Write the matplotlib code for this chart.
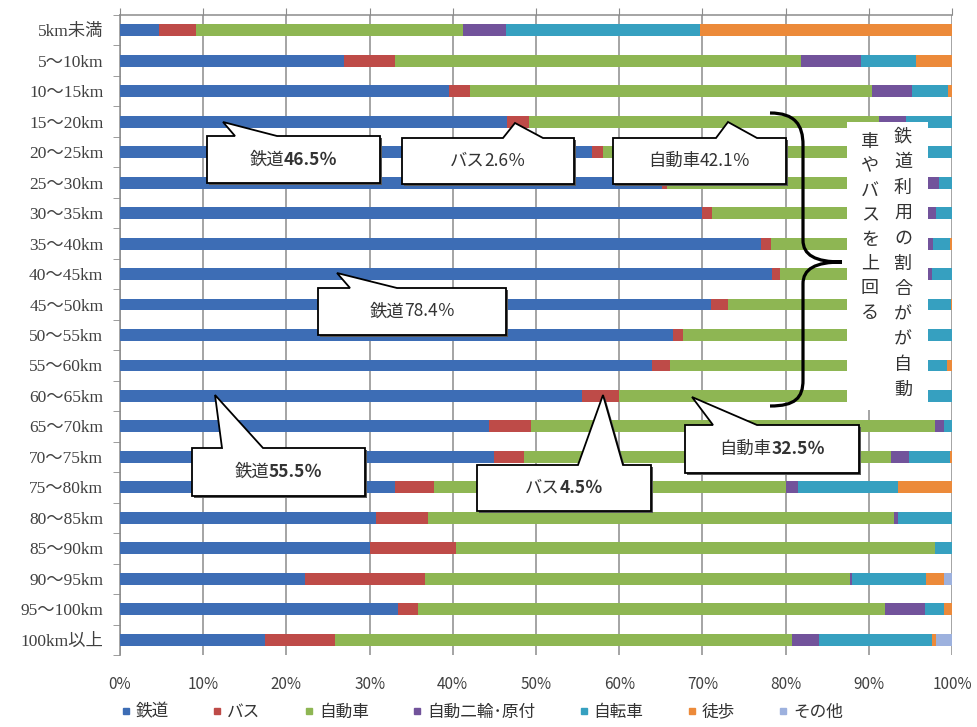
import matplotlib
matplotlib.use("Agg")
import matplotlib.pyplot as plt
import numpy as np
from matplotlib.patches import Polygon, Rectangle, PathPatch
from matplotlib.path import Path
from matplotlib.lines import Line2D

plt.rcParams['font.family'] = ['Noto Sans CJK JP', 'DejaVu Sans']

categories = ["5km未満", "5～10km", "10～15km", "15～20km", "20～25km", "25～30km",
              "30～35km", "35～40km", "40～45km", "45～50km", "50～55km", "55～60km",
              "60～65km", "65～70km", "70～75km", "75～80km", "80～85km", "85～90km",
              "90～95km", "95～100km", "100km以上"]
series_names = ["鉄道", "バス", "自動車", "自動二輪･原付", "自転車", "徒歩", "その他"]

rail = [4.7, 26.9, 39.5, 46.5, 56.7, 65.2, 70.0, 77.0, 78.4, 71.0, 66.5, 64.0, 55.5,
        44.4, 44.9, 33.0, 30.8, 30.0, 22.2, 33.4, 17.4]
bus = [4.4, 6.1, 2.6, 2.6, 1.3, 0.5, 1.2, 1.2, 0.9, 2.1, 1.2, 2.1, 4.5,
       5.0, 3.6, 4.7, 6.2, 10.4, 14.4, 2.4, 8.5]
car = [32.1, 48.8, 48.3, 42.1, 36.4, 31.2, 25.8, 18.9, 17.8, 23.6, 29.1, 30.8, 32.5,
       48.6, 44.2, 42.3, 56.0, 57.6, 51.1, 56.2, 54.9]
moto = [5.2, 7.3, 4.8, 3.3, 2.3, 1.5, 1.1, 0.6, 0.5, 0.4, 0.3, 0.2, 2.5,
        1.0, 2.1, 1.5, 0.5, 0.0, 0.3, 4.7, 3.2]
bike = [23.3, 6.6, 4.3, 5.5, 3.3, 1.6, 1.9, 2.0, 2.4, 2.8, 2.9, 2.3, 5.0,
        1.0, 5.0, 12.0, 6.5, 2.0, 8.9, 2.3, 13.6]
walk = [30.3, 4.3, 0.5, 0.0, 0.0, 0.0, 0.0, 0.3, 0.0, 0.5, 0.0, 0.6, 0.0,
        0.0, 0.2, 6.5, 0.0, 0.0, 2.1, 1.0, 0.5]
other = [0.0, 0.0, 0.0, 0.0, 0.0, 0.0, 0.0, 0.0, 0.0, 0.0, 0.0, 0.0, 0.0,
         0.0, 0.0, 0.0, 0.0, 0.0, 1.0, 0.0, 1.9]
xtick_labels = ["0%", "10%", "20%", "30%", "40%", "50%", "60%", "70%", "80%", "90%", "100%"]

colors = ["#3D6DB5", "#BE4B48", "#8EB653", "#72539B", "#36A0C0", "#EC8A3A", "#9DB1DE"]

W, H = 978, 727
fig = plt.figure(figsize=(W / 100, H / 100), dpi=100)
ax = fig.add_axes([120 / W, 1 - 655 / H, 832 / W, 640 / H])

y = np.arange(len(categories))
left = np.zeros(len(categories))
for name, vals, c in zip(series_names, [rail, bus, car, moto, bike, walk, other], colors):
    vals = np.array(vals)
    ax.barh(y, vals, left=left, height=0.39, color=c, label=name, zorder=3)
    left += vals

ax.set_xlim(0, 100)
ax.set_ylim(len(categories) - 0.5, -0.5)
ax.set_xticks(np.arange(0, 101, 10))
ax.set_xticklabels(xtick_labels, fontsize=11, color="#404040")
ax.tick_params(axis='x', top=True, bottom=False, labeltop=False, labelbottom=True,
               length=5, direction='out', color="#8c8c8c", pad=10)
ax.set_yticks(y)
ax.set_yticklabels(categories, fontsize=12.5, color="#404040",
                   family=['Liberation Serif', 'Noto Sans CJK JP'])
ax.set_yticks(np.arange(-0.5, len(categories), 1), minor=True)
ax.tick_params(axis='y', which='major', length=0, pad=12)
ax.tick_params(axis='y', which='minor', length=5, direction='out', color="#8c8c8c")
ax.grid(axis='x', color="#8c8c8c", linewidth=1.1, zorder=0)
ax.set_axisbelow(True)
for s in ['bottom', 'right']:
    ax.spines[s].set_visible(False)
for s in ['top', 'left']:
    ax.spines[s].set_color("#8c8c8c")
    ax.spines[s].set_linewidth(1.1)

handles = [Line2D([], [], marker='s', linestyle='', markersize=5, color=c) for c in colors]
fig.legend(handles, series_names, loc='center', bbox_to_anchor=(482 / W, 1 - 712 / H),
           ncol=7, frameon=False, fontsize=12, handlelength=0.6, handletextpad=0.3,
           columnspacing=2.6, labelcolor="#333333")

# overlay in pixel coordinates for annotations
ov = fig.add_axes([0, 0, 1, 1], zorder=10)
ov.set_xlim(0, W)
ov.set_ylim(H, 0)
ov.axis('off')
ov.patch.set_alpha(0)

# white text area
ov.add_patch(Rectangle((847, 122), 81, 288, facecolor='white', edgecolor='none', zorder=1))

# brace
verts = [(770, 113), (795, 113), (803, 125), (803, 145),
         (803, 240),
         (803, 255), (815, 262), (842, 262),
         (815, 262), (803, 269), (803, 284),
         (803, 380),
         (803, 398), (795, 406), (770, 406)]
codes = [Path.MOVETO, Path.CURVE4, Path.CURVE4, Path.CURVE4,
         Path.LINETO,
         Path.CURVE4, Path.CURVE4, Path.CURVE4,
         Path.CURVE4, Path.CURVE4, Path.CURVE4,
         Path.LINETO,
         Path.CURVE4, Path.CURVE4, Path.CURVE4]
ov.add_patch(PathPatch(Path(verts, codes), facecolor='none', edgecolor='black', lw=2.3, zorder=2))

right_col = "鉄道利用の割合がが自動"
left_col = "車やバスを上回る"
for i, ch in enumerate(right_col):
    ov.text(903, 137 + 25.3 * i, ch, ha='center', va='center', fontsize=13, color="#333333", zorder=3)
for i, ch in enumerate(left_col):
    ov.text(870, 142 + 24.4 * i, ch, ha='center', va='center', fontsize=13, color="#333333", zorder=3)

# callouts: (box x0, x1, y0, y1), tip, base, prefix, number, bold
callouts = [
    ((207, 380, 136, 183), (223, 122), (235, 277), "鉄道", "46.5％", True),
    ((402, 574, 138, 184), (515, 123), (503, 543), "バス", "2.6％", False),
    ((613, 786, 138, 184), (728, 122), (716, 757), "自動車", "42.1％", False),
    ((318, 506, 288, 335), (337, 273), (350, 397), "鉄道", "78.4％", False),
    ((192, 365, 448, 496), (215, 395), (222, 263), "鉄道", "55.5％", True),
    ((477, 651, 465, 511), (603, 395), (578, 623), "バス", "4.5％", True),
    ((685, 859, 425, 473), (692, 397), (713, 757), "自動車", "32.5％", True),
]
renderer = fig.canvas.get_renderer()
for (x0, x1, y0, y1), tip, (b1, b2), pre, num, bold in callouts:
    pts = [(x0, y0), (b1, y0), tip, (b2, y0), (x1, y0), (x1, y1), (x0, y1)]
    shadow = [(px + 2, py + 2) for px, py in pts]
    ov.add_patch(Polygon(shadow, closed=True, facecolor='#555555', edgecolor='none', zorder=4))
    ov.add_patch(Polygon(pts, closed=True, facecolor='white', edgecolor='black', lw=1.3, zorder=5))
    cy = (y0 + y1) / 2
    t1 = ov.text(0, cy, pre, ha='left', va='center', fontsize=12.5, color="#333333", zorder=6)
    t2 = ov.text(0, cy, num, ha='left', va='center', fontsize=12.5, color="#333333", zorder=6,
                 fontweight='bold' if bold else 'normal')
    w1 = t1.get_window_extent(renderer).width
    w2 = t2.get_window_extent(renderer).width
    start = (x0 + x1) / 2 - (w1 + w2) / 2
    t1.set_x(start)
    t2.set_x(start + w1)

fig.savefig("out.png", dpi=100)
